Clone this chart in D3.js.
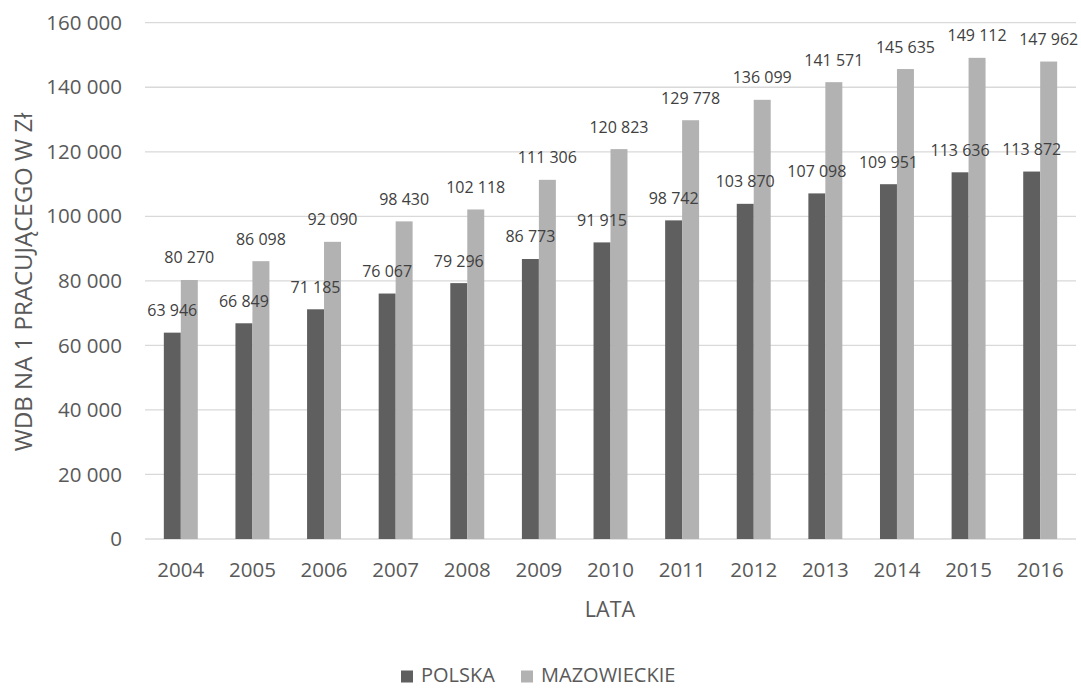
<!DOCTYPE html>
<html>
<head>
<meta charset="utf-8">
<script src="https://cdn.jsdelivr.net/npm/d3@7"></script>
<style>
  html, body { margin: 0; padding: 0; background: #fff; }
  svg { display: block; font-family: "Open Sans", sans-serif; }
</style>
</head>
<body>
<svg id="chart" width="1081" height="688"></svg>
<script>
const years = ["2004","2005","2006","2007","2008","2009","2010","2011","2012","2013","2014","2015","2016"];
const polska = [63946, 66849, 71185, 76067, 79296, 86773, 91915, 98742, 103870, 107098, 109951, 113636, 113872];
const mazowieckie = [80270, 86098, 92090, 98430, 102118, 111306, 120823, 129778, 136099, 141571, 145635, 149112, 147962];
const seriesNames = ["POLSKA", "MAZOWIECKIE"];
const seriesColors = ["#5f5f5f", "#b2b2b2"];
const yTicks = [0, 20000, 40000, 60000, 80000, 100000, 120000, 140000, 160000];
const yTitle = "WDB NA 1 PRACUJĄCEGO W Zł";
const xTitle = "LATA";

const svg = d3.select("#chart");
const textColor = "#595959";
const fmt = v => d3.format(",")(v).replace(/,/g, " ");

const x = d3.scaleBand().domain(years).range([145, 1076]).paddingInner(0.526).paddingOuter(0.263);
const xs = d3.scaleBand().domain(seriesNames).range([0, x.bandwidth()]);
const y = d3.scaleLinear().domain([0, 160000]).range([539, 22.7]);

// gridlines
svg.append("g").selectAll("line").data(yTicks).join("line")
  .attr("x1", 145).attr("x2", 1076)
  .attr("y1", d => y(d)).attr("y2", d => y(d))
  .attr("stroke", "#d9d9d9").attr("stroke-width", 1.3);

// y tick labels
svg.append("g").selectAll("text").data(yTicks).join("text")
  .attr("x", 122).attr("y", d => y(d))
  .attr("dy", "0.35em")
  .attr("text-anchor", "end")
  .attr("font-size", 20.5).attr("fill", textColor)
  .text(d => fmt(d));

const data = [polska, mazowieckie];
const barsG = svg.append("g");
const labelsG = svg.append("g");
data.forEach((vals, si) => {
  barsG.append("g").selectAll("rect").data(vals).join("rect")
    .attr("x", (d, i) => x(years[i]) + xs(seriesNames[si]))
    .attr("width", xs.bandwidth())
    .attr("y", d => y(d))
    .attr("height", d => y(0) - y(d))
    .attr("fill", seriesColors[si]);
  labelsG.append("g").selectAll("text").data(vals).join("text")
    .attr("x", (d, i) => x(years[i]) + xs(seriesNames[si]) + xs.bandwidth() / 2)
    .attr("y", d => y(d) - 16.5)
    .attr("text-anchor", "middle")
    .attr("font-size", 16).attr("fill", "#404040")
    .text(d => fmt(d));
});

// x labels
svg.append("g").selectAll("text").data(years).join("text")
  .attr("x", d => x(d) + x.bandwidth() / 2)
  .attr("y", 577)
  .attr("text-anchor", "middle")
  .attr("font-size", 20.5).attr("fill", textColor)
  .text(d => d);

// axis titles
svg.append("text")
  .attr("x", 610).attr("y", 617)
  .attr("text-anchor", "middle")
  .attr("font-size", 21.5).attr("fill", textColor)
  .text(xTitle);

svg.append("text")
  .attr("transform", "translate(32,282) rotate(-90)")
  .attr("text-anchor", "middle")
  .attr("font-size", 24).attr("fill", textColor)
  .text(yTitle);

// legend
const legendX = [401, 521];
const lg = svg.append("g");
seriesNames.forEach((name, i) => {
  lg.append("rect").attr("x", legendX[i]).attr("y", 670.5).attr("width", 12).attr("height", 12).attr("fill", seriesColors[i]);
  lg.append("text").attr("x", legendX[i] + 20).attr("y", 682)
    .attr("font-size", 20).attr("fill", textColor).text(name);
});
</script>
</body>
</html>
